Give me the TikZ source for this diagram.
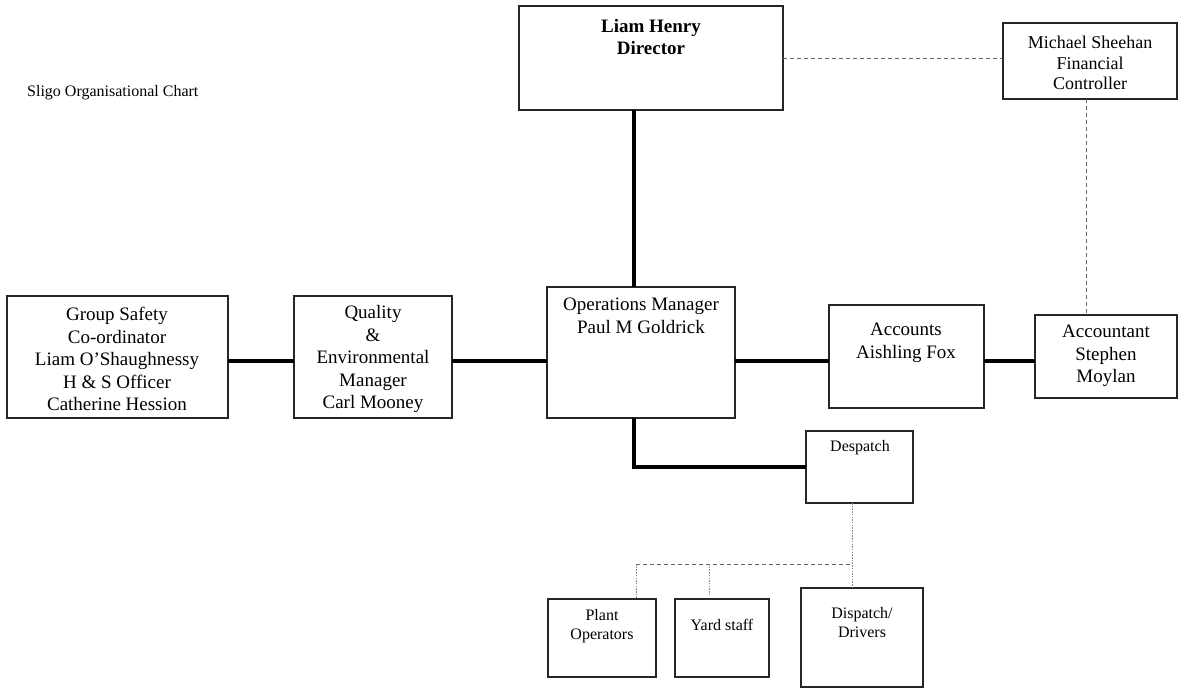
\documentclass[tikz,border=0pt]{standalone}
\usepackage{fontspec}
\setmainfont{Liberation Serif}
\begin{document}
\begin{tikzpicture}[x=1pt,y=-1pt,
  box/.style={draw=black!85,line width=1.4pt,inner sep=0pt,outer sep=0pt,anchor=north west},
  bigtxt/.style={font=\fontsize{19}{22.5}\selectfont,align=center,inner sep=0pt},
  smalltxt/.style={font=\fontsize{16}{19}\selectfont,align=center,inner sep=0pt},
  conn/.style={line width=3.3pt,black},
  dashconn/.style={line width=0.9pt,black!60,dash pattern=on 4pt off 3pt},
  dotconn/.style={line width=0.9pt,black!45,dash pattern=on 1.5pt off 1.2pt}]
\useasboundingbox[fill=white] (0,0) rectangle (1179,688);

% title
\node[font=\fontsize{16}{19}\selectfont,anchor=west,inner sep=0pt] (title) at (27,93) {Sligo Organisational Chart};

% boxes
\node[box,minimum width=264pt,minimum height=104pt] (dir) at (519,6) {};
\node[box,minimum width=174pt,minimum height=76pt] (fc) at (1003,23) {};
\node[box,minimum width=221pt,minimum height=122pt] (gs) at (7,296) {};
\node[box,minimum width=158pt,minimum height=122pt] (q) at (294,296) {};
\node[box,minimum width=188pt,minimum height=131pt] (ops) at (547,287) {};
\node[box,minimum width=155pt,minimum height=103pt] (acc) at (829,305) {};
\node[box,minimum width=142pt,minimum height=83pt] (acct) at (1035,315) {};
\node[box,minimum width=107pt,minimum height=72pt] (desp) at (806,431) {};
\node[box,minimum width=108pt,minimum height=78pt] (plant) at (548,599) {};
\node[box,minimum width=94pt,minimum height=78pt] (yard) at (675,599) {};
\node[box,minimum width=122pt,minimum height=99pt] (drv) at (801,588) {};

% texts
\node[bigtxt,font=\fontsize{19}{22.5}\selectfont\bfseries] (dirT) at (651,37) {Liam Henry\\Director};
\node[bigtxt,font=\fontsize{18}{20.5}\selectfont] (fcT) at (1090,63) {Michael Sheehan\\Financial\\Controller};
\node[bigtxt] (gsT) at (117,359) {Group Safety\\Co-ordinator\\Liam O’Shaughnessy\\H \& S Officer\\Catherine Hession};
\node[bigtxt] (qT) at (373,359) {Quality\\\&\\Environmental\\Manager\\Carl Mooney};
\node[bigtxt] (opsT) at (641,316) {Operations Manager\\Paul M Goldrick};
\node[bigtxt] (accT) at (906,343) {Accounts\\Aishling Fox};
\node[bigtxt] (acctT) at (1106,356) {Accountant\\Stephen\\Moylan};
\node[smalltxt] (despT) at (860,448) {Despatch};
\node[smalltxt] (plantT) at (602,626) {Plant\\Operators};
\node[smalltxt] (yardT) at (722,625) {Yard staff};
\node[smalltxt] (drvT) at (862,623) {Dispatch/\\Drivers};

% helper coordinates
\coordinate (opsTop) at (634,0);
\coordinate (hy) at (0,361);
\coordinate (fx) at (1086,0);
\coordinate (dx) at (852,564);
\coordinate (px) at (636,564);
\coordinate (yx) at (709,564);

% solid connectors
\draw[conn] (dir.south -| opsTop) -- (ops.north -| opsTop);
\draw[conn] (gs.east |- hy) -- (q.west |- hy);
\draw[conn] (q.east |- hy) -- (ops.west |- hy);
\draw[conn] (ops.east |- hy) -- (acc.west |- hy);
\draw[conn] (acc.east |- hy) -- (acct.west |- hy);
\draw[conn] (ops.south -| opsTop) |- (desp.west);

% dashed connectors
\draw[dashconn] (dir.east) -- (dir.east -| fc.west);
\draw[dashconn] (fc.south -| fx) -- (acct.north -| fx);
\draw[dashconn] (px) -- (dx);

% dotted connectors
\draw[dotconn] (desp.south -| dx) -- (dx) -- (drv.north -| dx);
\draw[dotconn] (px) -- (plant.north -| px);
\draw[dotconn] (yx) -- ([yshift=4pt]yard.north -| yx);
\end{tikzpicture}
\end{document}
